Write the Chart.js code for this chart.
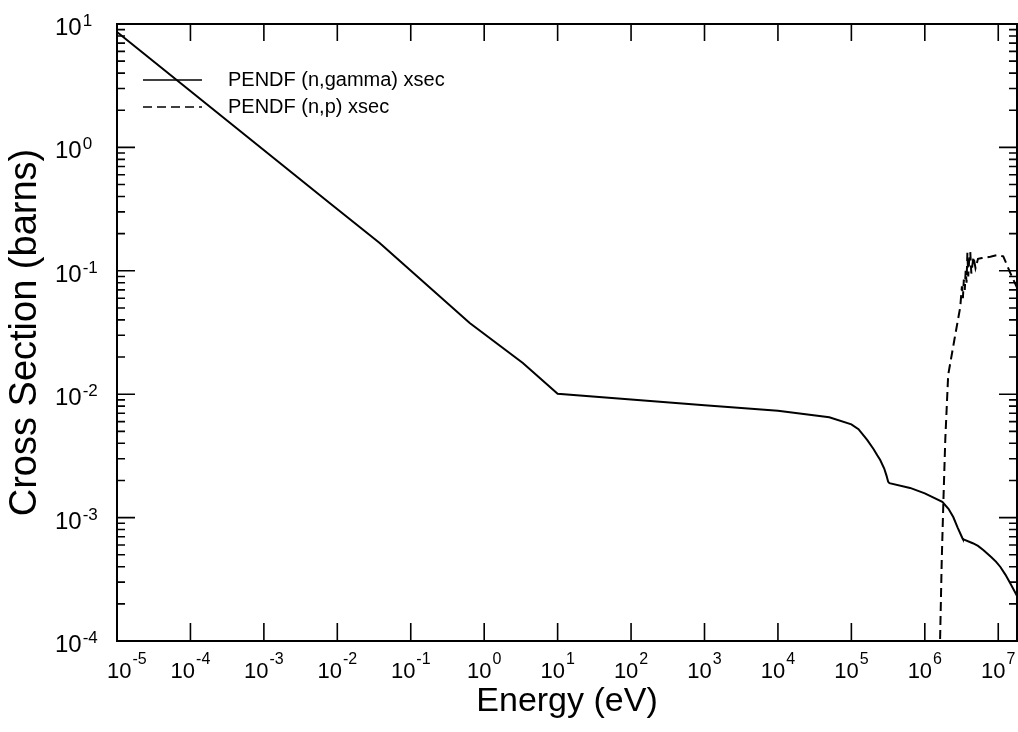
<!DOCTYPE html>
<html>
<head>
<meta charset="utf-8">
<script src="https://cdn.jsdelivr.net/npm/chart.js@4.4.1/dist/chart.umd.min.js"></script>
<style>
  html, body { margin: 0; padding: 0; background: #ffffff; }
  canvas { display: block; }
</style>
</head>
<body>
<canvas id="chart" width="1018" height="732"></canvas>
<script>
// ---------- data ----------
const seriesLabels = ['PENDF (n,gamma) xsec', 'PENDF (n,p) xsec'];

const gammaEnergy = [1e-5, 7.85e-3, 3.77e-2, 0.635, 3.36, 10, 100, 1000, 1e4, 5e4, 1e5, 1.25e5, 1.64e5, 2.0e5, 2.25e5, 2.47e5, 2.8e5, 3.0e5, 3.17e5, 3.3e5, 6.3e5, 1.0e6, 1.73e6, 2.1e6, 2.44e6, 2.8e6, 3.24e6, 3.3e6, 4.5e6, 5.3e6, 6.25e6, 8.0e6, 9.3e6, 1.07e7, 1.25e7, 1.45e7, 1.86e7];
const gammaXS     = [8.6, 0.354, 0.168, 0.0378, 0.0179, 0.0101, 0.00904, 0.00815, 0.00734, 0.0065, 0.0057, 0.0052, 0.00426, 0.0036, 0.0032, 0.00293, 0.0025, 0.0022, 0.00195, 0.0019, 0.00174, 0.00157, 0.00134, 0.00118, 0.00101, 0.00083, 0.000684, 0.00067, 0.00062, 0.00059, 0.000546, 0.00048, 0.00044, 0.000398, 0.000345, 0.000295, 0.000224];

const npEnergy = [1.6e6, 1.7e6, 1.79e6, 1.9e6, 2.08e6, 2.51e6, 3.04e6, 3.2e6, 3.3e6, 3.4e6, 3.5e6, 3.6e6, 3.7e6, 3.8e6, 3.9e6, 4.0e6, 4.16e6, 4.3e6, 4.6e6, 4.9e6, 5.3e6, 6.0e6, 7.8e6, 9.7e6, 1.17e7, 1.46e7, 1.86e7];
const npXS     = [8e-5, 4.5e-4, 1.35e-3, 4.3e-3, 0.0143, 0.027, 0.051, 0.075, 0.06, 0.085, 0.07, 0.10, 0.08, 0.14, 0.09, 0.118, 0.142, 0.095, 0.13, 0.105, 0.125, 0.127, 0.13, 0.134, 0.131, 0.096, 0.07];

// tick labels: base "10" with a superscript exponent
const tickBase = '10';
const xTickValues    = [1e-5, 1e-4, 1e-3, 1e-2, 1e-1, 1, 10, 1e2, 1e3, 1e4, 1e5, 1e6, 1e7];
const xTickExponents = ['-5', '-4', '-3', '-2', '-1', '0', '1', '2', '3', '4', '5', '6', '7'];
const yTickValues    = [1e-4, 1e-3, 1e-2, 1e-1, 1, 10];
const yTickExponents = ['-4', '-3', '-2', '-1', '0', '1'];

const xAxisTitle = 'Energy (eV)';
const yAxisTitle = 'Cross Section (barns)';

// ---------- chart ----------
const FONT = '"Liberation Sans", Arial, Helvetica, sans-serif';

function toPoints(xs, ys) { return xs.map((v, i) => ({ x: v, y: ys[i] })); }

// frame with inward tick marks on all four sides
const frameTicks = {
  id: 'frameTicks',
  afterDatasetsDraw(chart) {
    const { ctx, chartArea: a, scales: { x, y } } = chart;
    ctx.save();
    ctx.strokeStyle = '#000';
    ctx.lineWidth = 2;
    ctx.strokeRect(a.left, a.top, a.right - a.left, a.bottom - a.top);
    ctx.lineWidth = 1.6;
    ctx.beginPath();
    for (const v of xTickValues) {
      if (v < x.min * 0.999 || v > x.max * 1.001) continue;
      const p = x.getPixelForValue(v);
      ctx.moveTo(p, a.bottom); ctx.lineTo(p, a.bottom - 18);
      ctx.moveTo(p, a.top); ctx.lineTo(p, a.top + 17);
    }
    const e0 = Math.floor(Math.log10(y.min)), e1 = Math.ceil(Math.log10(y.max));
    for (let e = e0; e <= e1; e++) {
      for (let k = 1; k <= 9; k++) {
        const v = k * Math.pow(10, e);
        if (v < y.min * 0.999 || v > y.max * 1.001) continue;
        const p = y.getPixelForValue(v);
        const len = k === 1 ? 18 : 8;
        ctx.moveTo(a.left, p); ctx.lineTo(a.left + len, p);
        ctx.moveTo(a.right, p); ctx.lineTo(a.right - len, p);
      }
    }
    ctx.stroke();
    ctx.restore();
  }
};

// power-of-ten tick labels with real superscripts
const powerLabels = {
  id: 'powerLabels',
  afterDraw(chart) {
    const { ctx, chartArea: a, scales: { x, y } } = chart;
    ctx.save();
    ctx.fillStyle = '#000';
    ctx.textBaseline = 'alphabetic';
    ctx.textAlign = 'left';
    // x axis
    const xb = '22px ' + FONT, xe = '16px ' + FONT;
    xTickValues.forEach((v, i) => {
      const p = x.getPixelForValue(v);
      ctx.font = xb; const wb = ctx.measureText(tickBase).width;
      ctx.font = xe; const we = ctx.measureText(xTickExponents[i]).width;
      let left = p - (wb + 1 + we) / 2;
      left = Math.max(left, a.left - 10);
      ctx.font = xb; ctx.fillText(tickBase, left, a.bottom + 37);
      ctx.font = xe; ctx.fillText(xTickExponents[i], left + wb + 1, a.bottom + 23);
    });
    // y axis
    const yb = '24px ' + FONT, ye = '17px ' + FONT;
    yTickValues.forEach((v, i) => {
      const p = y.getPixelForValue(v);
      const left = a.left - 62;
      ctx.font = yb; const wb = ctx.measureText(tickBase).width;
      ctx.fillText(tickBase, left, p + 11);
      ctx.font = ye; ctx.fillText(yTickExponents[i], left + wb + 1, p + 2);
    });
    ctx.restore();
  }
};

// legend inside the plot area
const insetLegend = {
  id: 'insetLegend',
  afterDraw(chart) {
    const { ctx, chartArea: a } = chart;
    ctx.save();
    chart.data.datasets.forEach((ds, i) => {
      const yy = a.top + 56 + i * 27;
      ctx.strokeStyle = ds.borderColor;
      ctx.lineWidth = 1.3;
      ctx.setLineDash(ds.borderDash || []);
      ctx.beginPath();
      ctx.moveTo(a.left + 26, yy);
      ctx.lineTo(a.left + 85, yy);
      ctx.stroke();
      ctx.setLineDash([]);
      ctx.fillStyle = '#000';
      ctx.font = '20px ' + FONT;
      ctx.textBaseline = 'middle';
      ctx.textAlign = 'left';
      ctx.fillText(ds.label, a.left + 111, yy);
    });
    ctx.restore();
  }
};

new Chart(document.getElementById('chart'), {
  type: 'line',
  data: {
    datasets: [
      {
        label: seriesLabels[0],
        data: toPoints(gammaEnergy, gammaXS),
        borderColor: '#000',
        borderWidth: 2,
        pointRadius: 0,
        fill: false,
        tension: 0
      },
      {
        label: seriesLabels[1],
        data: toPoints(npEnergy, npXS),
        borderColor: '#000',
        borderWidth: 2,
        borderDash: [9, 5],
        pointRadius: 0,
        fill: false,
        tension: 0
      }
    ]
  },
  options: {
    responsive: false,
    devicePixelRatio: 1,
    animation: false,
    layout: { padding: { top: 24, right: 1, left: 0, bottom: 0 } },
    plugins: {
      legend: { display: false },
      tooltip: { enabled: false }
    },
    scales: {
      x: {
        type: 'logarithmic',
        position: 'bottom',
        min: 1e-5,
        max: 1.8e7,
        grid: { display: false },
        border: { display: false },
        afterBuildTicks: (s) => { s.ticks = xTickValues.map(v => ({ value: v })); },
        afterFit: (s) => { s.height = 91; s.paddingLeft = 0; s.paddingRight = 0; },
        ticks: { display: false, autoSkip: false },
        title: {
          display: true,
          text: xAxisTitle,
          color: '#000',
          font: { family: FONT, size: 34, lineHeight: 1.2 },
          padding: { top: 0, bottom: 10 }
        }
      },
      y: {
        type: 'logarithmic',
        position: 'left',
        min: 1e-4,
        max: 10,
        grid: { display: false },
        border: { display: false },
        afterBuildTicks: (s) => { s.ticks = yTickValues.map(v => ({ value: v })); },
        afterFit: (s) => { s.width = 117; s.paddingTop = 0; s.paddingBottom = 0; },
        ticks: { display: false, autoSkip: false },
        title: {
          display: true,
          text: yAxisTitle,
          color: '#000',
          font: { family: FONT, size: 38, lineHeight: 1.2 },
          padding: { top: 3, bottom: 0 }
        }
      }
    }
  },
  plugins: [frameTicks, powerLabels, insetLegend]
});
</script>
</body>
</html>
